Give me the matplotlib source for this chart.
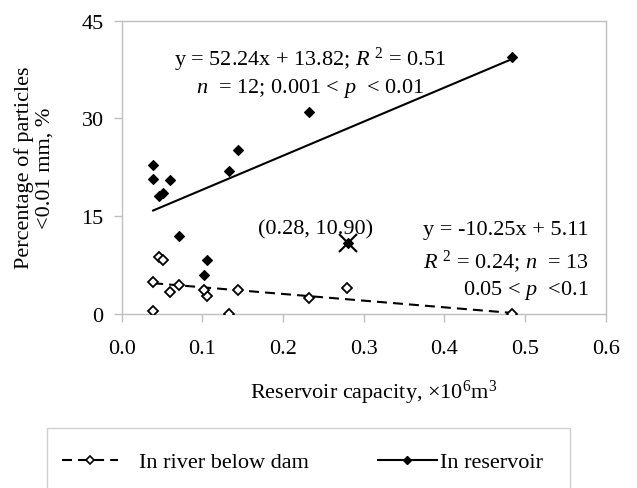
import matplotlib
matplotlib.use("Agg")
import matplotlib.pyplot as plt
import numpy as np
from matplotlib.lines import Line2D
from matplotlib.patches import Rectangle

plt.rcParams['font.family'] = ['Liberation Serif', 'DejaVu Serif']
plt.rcParams['mathtext.fontset'] = 'custom'
plt.rcParams['mathtext.rm'] = 'Liberation Serif'
plt.rcParams['mathtext.it'] = 'Liberation Serif:italic'

# reservoir samples (filled diamonds)
res_x = [0.484, 0.2325, 0.1445, 0.1334, 0.039, 0.039, 0.060, 0.0466, 0.0508, 0.071, 0.106, 0.1024]
res_y = [39.4, 31.0, 25.1, 21.9, 22.9, 20.7, 20.6, 18.1, 18.6, 11.9, 8.2, 5.9]
# outlier excluded from the fit
out_x = [0.28]
out_y = [10.90]
# river below dam (open diamonds)
riv_x = [0.484, 0.2796, 0.2325, 0.1445, 0.1334, 0.106, 0.1024, 0.071, 0.060, 0.039, 0.039, 0.0466, 0.0508]
riv_y = [0.0, 4.0, 2.4, 3.7, 0.0, 2.8, 3.7, 4.45, 3.3, 4.9, 0.5, 8.7, 8.2]

fit_res = (52.24, 13.82)
fit_riv = (-10.25, 5.11)

fig = plt.figure(figsize=(6.37, 4.89), dpi=100)
ax = fig.add_axes([0.191, 0.356, 0.76, 0.6])

fs = 16
grey = '#bfbfbf'
dash = (0, (4.8, 2.9))

xr = np.array([min(res_x), max(res_x)])
ax.plot(xr, fit_res[0] * xr + fit_res[1], color='black', lw=1.5, zorder=2)
xv = np.array([min(riv_x), max(riv_x)])
ax.plot(xv, fit_riv[0] * xv + fit_riv[1], color='black', lw=1.5, ls=dash, zorder=2)

ax.plot(res_x, res_y, 'D', color='black', ms=5.6, mew=0.8, ls='none', zorder=3)
ax.plot(riv_x, riv_y, 'D', mfc='white', mec='black', mew=1.3, ms=5.4, ls='none', zorder=3)
ax.plot(out_x, out_y, 'D', color='black', ms=5.6, mew=0.8, ls='none', zorder=3)
ax.plot(out_x, out_y, 'x', color='black', ms=13, mew=1.5, ls='none', zorder=4)

ax.set_xlim(0, 0.6)
ax.set_ylim(0, 45)
ax.set_xticks(np.arange(0, 0.61, 0.1))
ax.set_xticklabels(['%.1f' % v for v in np.arange(0, 0.61, 0.1)])
ax.set_yticks([0, 15, 30, 45])
for s in ax.spines.values():
    s.set_color(grey)
    s.set_linewidth(1)
ax.tick_params(axis='both', colors=grey, labelcolor='black', labelsize=fs, length=6, width=1)
ax.tick_params(axis='x', pad=12)
ax.tick_params(axis='y', pad=7)

ax.set_xlabel('Reservoir capacity, ×10$^6$m$^3$', fontsize=fs, labelpad=14, x=0.521)
ax.set_ylabel('Percentage of particles\n<0.01 mm, %', fontsize=fs, labelpad=19, linespacing=1.15)

ax.text(0.233, 39.1, 'y = 52.24x + 13.82; $R$ $^2$ = 0.51', fontsize=fs, ha='center', va='center')
ax.text(0.233, 34.8, '$n$  = 12; 0.001 < $p$  < 0.01', fontsize=fs, ha='center', va='center')
ax.text(0.240, 13.0, '(0.28, 10.90)', fontsize=fs, ha='center', va='center')
ax.text(0.579, 13.0, 'y = -10.25x + 5.11', fontsize=fs, ha='right', va='center')
ax.text(0.579, 8.2, '$R$ $^2$ = 0.24; $n$  = 13', fontsize=fs, ha='right', va='center')
ax.text(0.579, 3.8, '0.05 < $p$  <0.1', fontsize=fs, ha='right', va='center')

# legend frame runs off the bottom edge
fig.patches.append(Rectangle((47 / 637, -0.05), (570 - 47) / 637, 0.05 + 1 - 429 / 489,
                             transform=fig.transFigure, fill=False, edgecolor='#d0d0d0', lw=1))
h1 = Line2D([], [], color='black', lw=1.5, ls=dash, marker='D', mfc='white', mec='black', mew=1.2, ms=4.5)
h2 = Line2D([], [], color='black', lw=1.5, marker='D', ms=4.5)
fig.legend([h1], ['In river below dam'], loc='center left', bbox_to_anchor=(62 / 637, 1 - 463 / 489),
           frameon=False, fontsize=fs, handlelength=2.5, handletextpad=0.95, borderpad=0, borderaxespad=0)
fig.legend([h2], ['In reservoir'], loc='center left', bbox_to_anchor=(378 / 637, 1 - 463 / 489),
           frameon=False, fontsize=fs, handlelength=2.65, handletextpad=0.14, borderpad=0, borderaxespad=0)

fig.savefig('out.png', dpi=100)
